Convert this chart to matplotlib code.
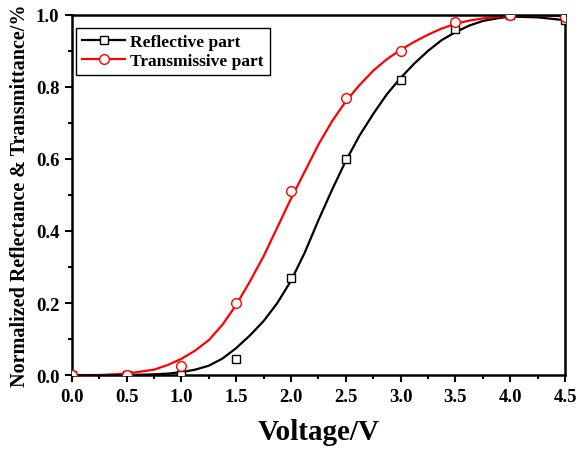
import matplotlib
matplotlib.use("Agg")
import matplotlib.pyplot as plt
from matplotlib.ticker import MultipleLocator, FormatStrFormatter

# measured points
volt_pts = [0.0, 0.5, 1.0, 1.5, 2.0, 2.5, 3.0, 3.5, 4.0, 4.5]
refl_pts = [0.0, 0.0, 0.0, 0.045, 0.27, 0.60, 0.82, 0.96, 1.0, 0.985]
trans_pts = [0.0, 0.0, 0.025, 0.20, 0.51, 0.77, 0.90, 0.98, 1.0, 0.995]

# fitted curves
volt_fit = [0.0, 0.25, 0.5, 0.75, 0.875, 1.0, 1.125, 1.25, 1.375, 1.5, 1.625, 1.75,
            1.875, 2.0, 2.125, 2.25, 2.375, 2.5, 2.625, 2.75, 2.875, 3.0, 3.125,
            3.25, 3.375, 3.5, 3.625, 3.75, 3.875, 4.0, 4.25, 4.5]
refl_fit = [0.0, 0.0, 0.0, 0.002, 0.004, 0.008, 0.015, 0.026, 0.046, 0.075, 0.11, 0.15,
            0.2, 0.262, 0.34, 0.43, 0.515, 0.595, 0.665, 0.725, 0.78, 0.825, 0.865,
            0.9, 0.93, 0.952, 0.97, 0.983, 0.99, 0.995, 0.993, 0.985]
trans_fit = [0.0, 0.0, 0.004, 0.015, 0.028, 0.045, 0.068, 0.097, 0.14, 0.195, 0.26, 0.33,
             0.41, 0.49, 0.565, 0.64, 0.705, 0.76, 0.805, 0.845, 0.877, 0.903, 0.925,
             0.945, 0.962, 0.975, 0.984, 0.99, 0.994, 0.997, 0.998, 0.996]

plt.rcParams['font.family'] = ['Liberation Serif', 'DejaVu Serif']
plt.rcParams['font.weight'] = 'bold'

fig = plt.figure(figsize=(5.79, 4.52), dpi=100)
ax = fig.add_axes([0.124, 0.168, 0.852, 0.797])

lw = 1.6
ax.plot(volt_fit, refl_fit, color='black', lw=lw, zorder=2)
ax.plot(volt_fit, trans_fit, color='red', lw=lw, zorder=2)
ax.plot(volt_pts, refl_pts, ls='none', marker='s', ms=6, mfc='white', mec='black', mew=1, zorder=3)
ax.plot(volt_pts, trans_pts, ls='none', marker='o', ms=7, mfc='white', mec='red', mew=1, zorder=3)

# legend handles
h1, = ax.plot([], [], color='black', lw=lw, marker='s', ms=6, mfc='white', mec='black', mew=1)
h2, = ax.plot([], [], color='red', lw=lw, marker='o', ms=7, mfc='white', mec='red', mew=1)
leg = ax.legend([h1, h2], ['Reflective part', 'Transmissive part'], loc='upper left',
                bbox_to_anchor=(0.008, 0.964), borderaxespad=0, frameon=True, fancybox=False,
                edgecolor='black', framealpha=1, borderpad=0.35, handlelength=2.5,
                handletextpad=0.3, labelspacing=0.15,
                prop={'family': 'Liberation Serif', 'weight': 'bold', 'size': 12.5})
leg.get_frame().set_linewidth(1.0)

ax.set_xlim(0, 4.5)
ax.set_ylim(0, 1.0)
ax.xaxis.set_major_locator(MultipleLocator(0.5))
ax.xaxis.set_minor_locator(MultipleLocator(0.25))
ax.yaxis.set_major_locator(MultipleLocator(0.2))
ax.yaxis.set_minor_locator(MultipleLocator(0.1))
ax.xaxis.set_major_formatter(FormatStrFormatter('%.1f'))
ax.yaxis.set_major_formatter(FormatStrFormatter('%.1f'))

ax.tick_params(which='both', direction='out', width=1.5, top=False, right=False)
ax.tick_params(which='major', length=5, labelsize=13.5, pad=4)
ax.tick_params(which='minor', length=3)
for lab in ax.get_xticklabels() + ax.get_yticklabels():
    lab.set_fontweight('bold')
for sp in ax.spines.values():
    sp.set_linewidth(1.8)

ax.set_xlabel('Voltage/V', fontsize=21, fontweight='bold', labelpad=10)
ax.set_ylabel('Normalized Reflectance & Transmittance/%', fontsize=14.5, fontweight='bold', labelpad=4)

fig.savefig('out.png', dpi=100)
